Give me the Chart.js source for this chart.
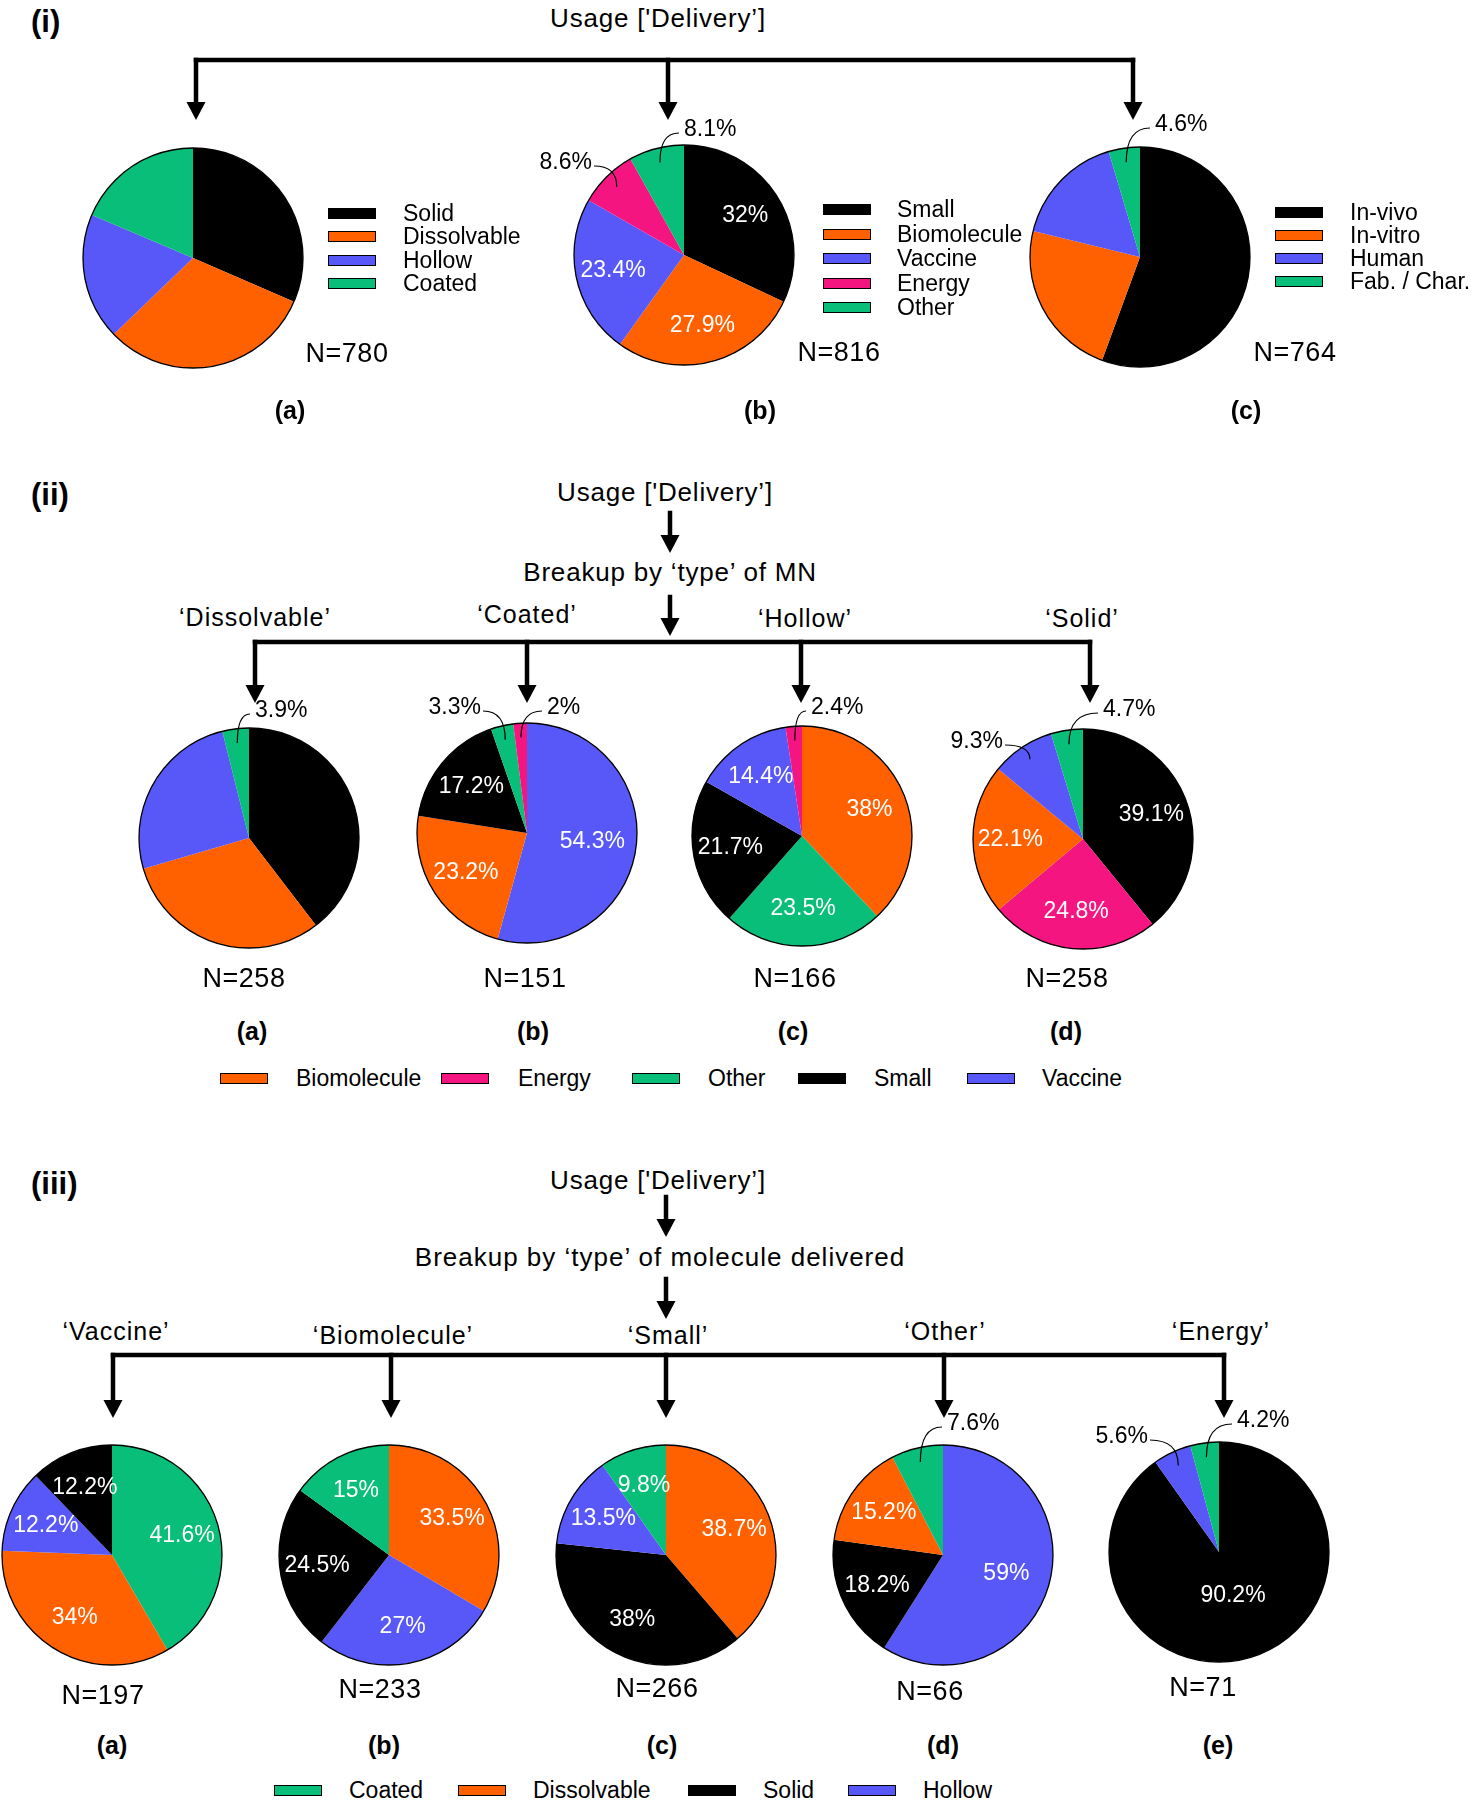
<!DOCTYPE html>
<html>
<head>
<meta charset="utf-8">
<script src="https://cdn.jsdelivr.net/npm/chart.js@4.4.1/dist/chart.umd.min.js"></script>
<style>
  body { margin: 0; background: #fff; }
  #page { position: relative; width: 1473px; height: 1800px; overflow: hidden;
          font-family: 'Liberation Sans', Arial, sans-serif; color: #000; }
  .txt { position: absolute; white-space: nowrap; line-height: 1; }
  .pie { position: absolute; width: 320px; height: 320px; }
  .sw { position: absolute; width: 46px; height: 9px; border: 1px solid #000; }
  svg { position: absolute; left: 0; top: 0; }
</style>
</head>
<body>
<div id="page">
  <svg id="arrows" width="1473" height="1800"></svg>
</div>
<script>
// ---- data ----
// (i) overall delivery split
const typeLabels = ['Solid', 'Dissolvable', 'Hollow', 'Coated'];
const typeShares = [31.5, 31.3, 18.6, 18.6];
const moleculeLabels = ['Small', 'Biomolecule', 'Vaccine', 'Energy', 'Other'];
const moleculeShares = [32, 27.9, 23.4, 8.6, 8.1];
const studyLabels = ['In-vivo', 'In-vitro', 'Human', 'Fab. / Char.'];
const studyShares = [55.6, 23.2, 16.6, 4.6];
const sectionOneN = [780, 816, 764];

// (ii) molecule delivered, by MN type
const mnTitles = ['Dissolvable', 'Coated', 'Hollow', 'Solid'];
const mnN = [258, 151, 166, 258];
const dissolvableLabels = ['Small', 'Biomolecule', 'Vaccine', 'Other'];
const dissolvableShares = [39.6, 30.9, 25.6, 3.9];
const coatedLabels = ['Vaccine', 'Biomolecule', 'Small', 'Other', 'Energy'];
const coatedShares = [54.3, 23.2, 17.2, 3.3, 2];
const hollowLabels = ['Biomolecule', 'Other', 'Small', 'Vaccine', 'Energy'];
const hollowShares = [38, 23.5, 21.7, 14.4, 2.4];
const solidLabels = ['Small', 'Energy', 'Biomolecule', 'Vaccine', 'Other'];
const solidShares = [39.1, 24.8, 22.1, 9.3, 4.7];
const moleculeLegend = ['Biomolecule', 'Energy', 'Other', 'Small', 'Vaccine'];

// (iii) MN type, by molecule delivered
const molTitles = ['Vaccine', 'Biomolecule', 'Small', 'Other', 'Energy'];
const molN = [197, 233, 266, 66, 71];
const vaccineLabels = ['Coated', 'Dissolvable', 'Hollow', 'Solid'];
const vaccineShares = [41.6, 34, 12.2, 12.2];
const bioLabels = ['Dissolvable', 'Hollow', 'Solid', 'Coated'];
const bioShares = [33.5, 27, 24.5, 15];
const smallLabels = ['Dissolvable', 'Solid', 'Hollow', 'Coated'];
const smallShares = [38.7, 38, 13.5, 9.8];
const otherLabels = ['Hollow', 'Solid', 'Dissolvable', 'Coated'];
const otherShares = [59, 18.2, 15.2, 7.6];
const energyLabels = ['Solid', 'Hollow', 'Coated'];
const energyShares = [90.2, 5.6, 4.2];
const typeLegend = ['Coated', 'Dissolvable', 'Solid', 'Hollow'];

// ---- colours ----
const BLACK = '#000000', ORANGE = '#FF6100', BLUE = '#5858F9', PINK = '#F41580', GREEN = '#08BE78';
const colourOf = {
  'Solid': BLACK, 'Small': BLACK, 'In-vivo': BLACK,
  'Dissolvable': ORANGE, 'Biomolecule': ORANGE, 'In-vitro': ORANGE,
  'Hollow': BLUE, 'Vaccine': BLUE, 'Human': BLUE,
  'Coated': GREEN, 'Other': GREEN, 'Fab. / Char.': GREEN,
  'Energy': PINK
};

const page = document.getElementById('page');
const svg = document.getElementById('arrows');
const FONT = "'Liberation Sans', Arial, sans-serif";

function put(text, x, y, size, opts = {}) {
  const d = document.createElement('div');
  d.className = 'txt';
  d.textContent = text;
  d.style.fontSize = size + 'px';
  if (opts.bold) d.style.fontWeight = 'bold';
  if (opts.spacing) d.style.letterSpacing = opts.spacing + 'px';
  d.style.left = x + 'px';
  d.style.top = y + 'px';
  d.style.transform = opts.left ? 'translateY(-50%)' : 'translate(-50%,-50%)';
  page.appendChild(d);
}

function swatch(label, x, y) {
  const s = document.createElement('div');
  s.className = 'sw';
  s.style.background = colourOf[label];
  s.style.left = x + 'px';
  s.style.top = (y - 5) + 'px';
  page.appendChild(s);
}

function line(pts) {
  const p = document.createElementNS('http://www.w3.org/2000/svg', 'polyline');
  p.setAttribute('points', pts.map(q => q.join(',')).join(' '));
  p.setAttribute('fill', 'none');
  p.setAttribute('stroke', '#000');
  p.setAttribute('stroke-width', '4.5');
  p.setAttribute('stroke-linecap', 'square');
  svg.appendChild(p);
}

function arrow(x, y0, tip) {
  line([[x, y0], [x, tip - 16]]);
  const t = document.createElementNS('http://www.w3.org/2000/svg', 'polygon');
  t.setAttribute('points', `${x - 9.5},${tip - 18} ${x + 9.5},${tip - 18} ${x},${tip}`);
  t.setAttribute('fill', '#000');
  svg.appendChild(t);
}

// slice percentages, outer ring and leader lines
const sliceText = {
  id: 'sliceText',
  afterDatasetsDraw(chart, args, opts) {
    const ctx = chart.ctx;
    const arcs = chart.getDatasetMeta(0).data;
    const values = chart.data.datasets[0].data;
    const {x, y, outerRadius: r} = arcs[0].getProps(['x', 'y', 'outerRadius'], true);
    ctx.save();
    ctx.beginPath();
    ctx.arc(x, y, r, 0, Math.PI * 2);
    ctx.lineWidth = 1.3;
    ctx.strokeStyle = '#000';
    ctx.stroke();
    ctx.font = '23px ' + FONT;
    ctx.textBaseline = 'middle';
    arcs.forEach((arc, i) => {
      const mode = opts.show[i];
      if (!mode) return;
      const {startAngle, endAngle} = arc.getProps(['startAngle', 'endAngle'], true);
      const mid = (startAngle + endAngle) / 2;
      const text = values[i] + '%';
      if (mode === 'in') {
        const f = values[i] > 80 ? 0.42 : values[i] > 50 ? 0.6 : 0.66;
        ctx.fillStyle = '#fff';
        ctx.textAlign = 'center';
        ctx.fillText(text, x + Math.cos(mid) * f * r, y + Math.sin(mid) * f * r);
      } else {
        const [dx, dy, side] = opts.out[i];
        const lx = x + dx, ly = y + dy;
        const ax = x + Math.cos(mid) * 0.87 * r, ay = y + Math.sin(mid) * 0.87 * r;
        ctx.fillStyle = '#000';
        ctx.textAlign = side;
        ctx.fillText(text, lx, ly);
        const sx = side === 'left' ? lx - 5 : lx + 2, sy = ly + 3;
        ctx.beginPath();
        ctx.moveTo(sx, sy);
        ctx.quadraticCurveTo(ax, sy, ax, ay);
        ctx.lineWidth = 1.2;
        ctx.stroke();
      }
    });
    ctx.restore();
  }
};

function pie(cx, cy, labels, values, show, out = {}) {
  const c = document.createElement('canvas');
  c.className = 'pie';
  c.width = 320; c.height = 320;
  c.style.left = (cx - 160) + 'px';
  c.style.top = (cy - 160) + 'px';
  page.appendChild(c);
  new Chart(c.getContext('2d'), {
    type: 'pie',
    data: {
      labels: labels,
      datasets: [{
        data: values,
        backgroundColor: labels.map(l => colourOf[l]),
        borderWidth: 0,
        radius: 110
      }]
    },
    options: {
      responsive: false,
      animation: false,
      events: [],
      plugins: {
        legend: { display: false },
        tooltip: { enabled: false },
        sliceText: { show: show, out: out }
      }
    },
    plugins: [sliceText]
  });
}

// ---------- (i) ----------
put('(i)', 31, 21, 31, { bold: true, left: true });
put("Usage ['Delivery\u2019]", 658, 18, 26, { spacing: 0.8 });
line([[196, 60], [1133, 60]]);
[196, 668, 1133].forEach(x => arrow(x, 60, 120));

pie(193, 258, typeLabels, typeShares, ['', '', '', '']);
pie(684, 255, moleculeLabels, moleculeShares, ['in', 'in', 'in', 'out', 'out'],
    { 3: [-92, -92, 'right'], 4: [0, -125, 'left'] });
pie(1140, 257, studyLabels, studyShares, ['', '', '', 'out'], { 3: [15, -132, 'left'] });

typeLabels.forEach((l, i) => { swatch(l, 328, 213 + i * 23.3); put(l, 403, 213 + i * 23.3, 23, { left: true }); });
moleculeLabels.forEach((l, i) => { swatch(l, 823, 209 + i * 24.5); put(l, 897, 209 + i * 24.5, 23, { left: true }); });
studyLabels.forEach((l, i) => { swatch(l, 1275, 212 + i * 23); put(l, 1350, 212 + i * 23, 23, { left: true }); });

[[347, 353], [839, 352], [1295, 352]].forEach(([x, y], i) => put('N=' + sectionOneN[i], x, y, 27, { spacing: 0.5 }));
[['(a)', 290], ['(b)', 760], ['(c)', 1246]].forEach(([t, x]) => put(t, x, 410, 25, { bold: true }));

// ---------- (ii) ----------
put('(ii)', 31, 494, 31, { bold: true, left: true });
put("Usage ['Delivery\u2019]", 665, 492, 26, { spacing: 0.8 });
arrow(670, 513, 553);
put('Breakup by \u2018type\u2019 of MN', 670, 572, 26, { spacing: 0.8 });
arrow(670, 597, 636);
line([[255, 642], [1090, 642]]);
const mnX = [255, 527, 801, 1090];
mnX.forEach(x => arrow(x, 642, 703));
[[255, 617], [527, 614], [805, 618], [1082, 618]].forEach(([x, y], i) =>
  put('\u2018' + mnTitles[i] + '\u2019', x, y, 25, { spacing: 1 }));

pie(249, 838, dissolvableLabels, dissolvableShares, ['', '', '', 'out'], { 3: [6, -127, 'left'] });
pie(527, 833, coatedLabels, coatedShares, ['in', 'in', 'in', 'out', 'out'],
    { 3: [-46, -125, 'right'], 4: [20, -125, 'left'] });
pie(802, 836, hollowLabels, hollowShares, ['in', 'in', 'in', 'in', 'out'], { 4: [9, -128, 'left'] });
pie(1083, 839, solidLabels, solidShares, ['in', 'in', 'in', 'out', 'out'],
    { 3: [-80, -97, 'right'], 4: [20, -129, 'left'] });

[244, 525, 795, 1067].forEach((x, i) => put('N=' + mnN[i], x, 978, 27, { spacing: 0.5 }));
[['(a)', 252], ['(b)', 533], ['(c)', 793], ['(d)', 1066]].forEach(([t, x]) => put(t, x, 1031, 25, { bold: true }));
const legII = [[220, 296], [441, 518], [632, 708], [798, 874], [967, 1042]];
moleculeLegend.forEach((l, i) => { swatch(l, legII[i][0], 1078); put(l, legII[i][1], 1078, 23, { left: true }); });

// ---------- (iii) ----------
put('(iii)', 31, 1183, 31, { bold: true, left: true });
put("Usage ['Delivery\u2019]", 658, 1180, 26, { spacing: 0.8 });
arrow(666, 1197, 1237);
put('Breakup by \u2018type\u2019 of molecule delivered', 660, 1257, 26, { spacing: 1 });
arrow(666, 1279, 1319);
line([[113, 1355], [1224, 1355]]);
[113, 391, 666, 944, 1224].forEach(x => arrow(x, 1355, 1418));
[[116, 1331], [393, 1335], [668, 1335], [945, 1331], [1221, 1331]].forEach(([x, y], i) =>
  put('\u2018' + molTitles[i] + '\u2019', x, y, 25, { spacing: 1 }));

pie(112, 1555, vaccineLabels, vaccineShares, ['in', 'in', 'in', 'in']);
pie(389, 1555, bioLabels, bioShares, ['in', 'in', 'in', 'in']);
pie(666, 1555, smallLabels, smallShares, ['in', 'in', 'in', 'in']);
pie(943, 1555, otherLabels, otherShares, ['in', 'in', 'in', 'out'], { 3: [4, -131, 'left'] });
pie(1219, 1552, energyLabels, energyShares, ['in', 'out', 'out'],
    { 1: [-71, -115, 'right'], 2: [18, -131, 'left'] });

[[103, 1695], [380, 1689], [657, 1688], [930, 1691], [1203, 1687]].forEach(([x, y], i) =>
  put('N=' + molN[i], x, y, 27, { spacing: 0.5 }));
[['(a)', 112], ['(b)', 384], ['(c)', 662], ['(d)', 943], ['(e)', 1218]].forEach(([t, x]) => put(t, x, 1745, 25, { bold: true }));
const legIII = [[274, 349], [458, 533], [688, 763], [848, 923]];
typeLegend.forEach((l, i) => { swatch(l, legIII[i][0], 1790); put(l, legIII[i][1], 1790, 23, { left: true }); });
</script>
</body>
</html>
